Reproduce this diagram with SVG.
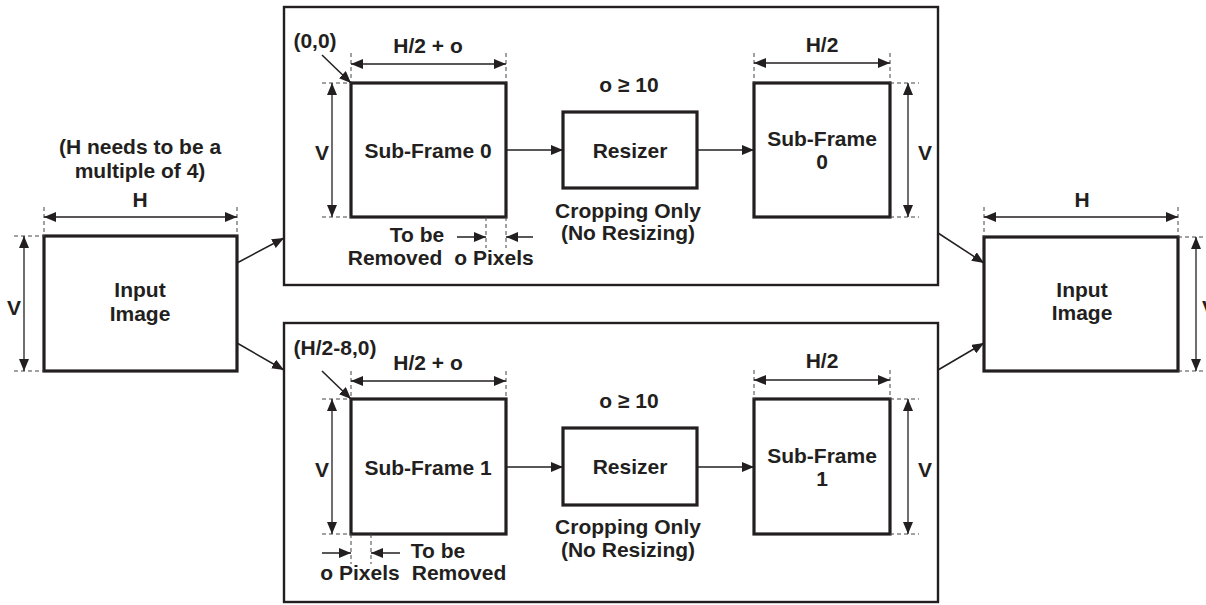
<svg xmlns="http://www.w3.org/2000/svg" width="1206" height="605" viewBox="0 0 1206 605">
<defs>
<marker id="ah" markerUnits="userSpaceOnUse" markerWidth="12" markerHeight="10" refX="12" refY="5" orient="auto-start-reverse" viewBox="0 0 12 10"><path d="M0,0 L12,5 L0,10 z" fill="#231f20"/></marker>
<marker id="ca" markerUnits="userSpaceOnUse" markerWidth="12" markerHeight="10" refX="12" refY="5" orient="auto" viewBox="0 0 12 10"><path d="M0,0 L12,5 L0,10 z" fill="#231f20"/></marker>
</defs>
<style>
text{font-family:"Liberation Sans",Arial,sans-serif;font-weight:bold;font-size:21px;fill:#231f20;text-anchor:middle}
.box{fill:#fff;stroke:#231f20;stroke-width:3.2}
.outer{fill:none;stroke:#231f20;stroke-width:2.4}
.dim{stroke:#231f20;stroke-width:1.3;fill:none;marker-start:url(#ah);marker-end:url(#ah)}
.ext{stroke:#444;stroke-width:1;stroke-dasharray:4 3;fill:none}
.con{stroke:#231f20;stroke-width:1.5;fill:none;marker-end:url(#ca)}
</style>
<rect width="1206" height="605" fill="#fff"/>

<g id="top-stage">
<rect class="outer" x="284" y="7" width="654" height="278"/>
</g>
<g id="bottom-stage">
<rect class="outer" x="284" y="323" width="654" height="279"/>
</g>

<g id="input-left">
<rect class="box" x="44" y="236" width="193" height="135"/>
<text x="140" y="297">Input</text>
<text x="140" y="321">Image</text>
<text x="140" y="154">(H needs to be a</text>
<text x="140" y="178">multiple of 4)</text>
<line class="ext" x1="44" y1="207" x2="44" y2="236"/>
<line class="ext" x1="237" y1="207" x2="237" y2="236"/>
<line class="dim" x1="44" y1="217" x2="237" y2="217"/>
<text x="140" y="207">H</text>
<line class="ext" x1="14" y1="236" x2="44" y2="236"/>
<line class="ext" x1="14" y1="371" x2="44" y2="371"/>
<line class="dim" x1="24" y1="236" x2="24" y2="371"/>
<text x="14" y="315">V</text>
</g>

<g id="subframe0">
<rect class="box" x="351" y="83" width="155" height="134"/>
<text x="428" y="158">Sub-Frame 0</text>
<text x="315" y="48">(0,0)</text>
<line class="ext" x1="351" y1="53" x2="351" y2="83"/>
<line class="ext" x1="506" y1="53" x2="506" y2="83"/>
<line class="dim" x1="351" y1="64" x2="506" y2="64"/>
<text x="428" y="53">H/2 + o</text>
<line class="ext" x1="322" y1="83" x2="351" y2="83"/>
<line class="ext" x1="322" y1="217" x2="351" y2="217"/>
<line class="dim" x1="332" y1="83" x2="332" y2="217"/>
<text x="322" y="160">V</text>
<line class="ext" x1="486" y1="217" x2="486" y2="248"/>
<line class="ext" x1="506" y1="217" x2="506" y2="248"/>
<text x="417" y="242">To be</text>
<text x="395" y="265">Removed</text>
<text x="494" y="265">o Pixels</text>
</g>

<g id="resizer0">
<rect class="box" x="563" y="112" width="134" height="76"/>
<text x="630" y="158">Resizer</text>
<text x="629" y="92">o ≥ 10</text>
<text x="628" y="218">Cropping Only</text>
<text x="628" y="240">(No Resizing)</text>
</g>

<g id="subframe0-out">
<rect class="box" x="754" y="83" width="136" height="134"/>
<text x="822" y="146">Sub-Frame</text>
<text x="822" y="169">0</text>
<line class="ext" x1="754" y1="53" x2="754" y2="83"/>
<line class="ext" x1="890" y1="53" x2="890" y2="83"/>
<line class="dim" x1="754" y1="63" x2="890" y2="63"/>
<text x="822" y="52">H/2</text>
<line class="ext" x1="890" y1="83" x2="919" y2="83"/>
<line class="ext" x1="890" y1="217" x2="919" y2="217"/>
<line class="dim" x1="908" y1="83" x2="908" y2="217"/>
<text x="925" y="160">V</text>
</g>

<g id="subframe1">
<rect class="box" x="351" y="399" width="155" height="135"/>
<text x="428" y="475">Sub-Frame 1</text>
<text x="335" y="355">(H/2-8,0)</text>
<line class="ext" x1="351" y1="371" x2="351" y2="399"/>
<line class="ext" x1="506" y1="371" x2="506" y2="399"/>
<line class="dim" x1="351" y1="381" x2="506" y2="381"/>
<text x="428" y="370">H/2 + o</text>
<line class="ext" x1="322" y1="399" x2="351" y2="399"/>
<line class="ext" x1="322" y1="534" x2="351" y2="534"/>
<line class="dim" x1="332" y1="399" x2="332" y2="534"/>
<text x="322" y="477">V</text>
<line class="ext" x1="351" y1="534" x2="351" y2="564"/>
<line class="ext" x1="371" y1="534" x2="371" y2="564"/>
<text x="438" y="558">To be</text>
<text x="459" y="580">Removed</text>
<text x="360" y="580">o Pixels</text>
</g>

<g id="resizer1">
<rect class="box" x="563" y="428" width="134" height="77"/>
<text x="630" y="474">Resizer</text>
<text x="629" y="408">o ≥ 10</text>
<text x="628" y="534">Cropping Only</text>
<text x="628" y="557">(No Resizing)</text>
</g>

<g id="subframe1-out">
<rect class="box" x="754" y="399" width="136" height="135"/>
<text x="822" y="463">Sub-Frame</text>
<text x="822" y="486">1</text>
<line class="ext" x1="754" y1="370" x2="754" y2="399"/>
<line class="ext" x1="890" y1="370" x2="890" y2="399"/>
<line class="dim" x1="754" y1="380" x2="890" y2="380"/>
<text x="822" y="368">H/2</text>
<line class="ext" x1="890" y1="399" x2="919" y2="399"/>
<line class="ext" x1="890" y1="534" x2="919" y2="534"/>
<line class="dim" x1="908" y1="399" x2="908" y2="534"/>
<text x="925" y="477">V</text>
</g>

<g id="input-right">
<rect class="box" x="984" y="237" width="194" height="134"/>
<text x="1082" y="297">Input</text>
<text x="1082" y="320">Image</text>
<line class="ext" x1="984" y1="207" x2="984" y2="237"/>
<line class="ext" x1="1178" y1="207" x2="1178" y2="237"/>
<line class="dim" x1="984" y1="217" x2="1178" y2="217"/>
<text x="1082" y="207">H</text>
<line class="ext" x1="1178" y1="237" x2="1206" y2="237"/>
<line class="ext" x1="1178" y1="371" x2="1206" y2="371"/>
<line class="dim" x1="1196" y1="237" x2="1196" y2="371"/>
<text x="1202" y="315" style="text-anchor:start">V</text>
</g>

<g id="connectors">
<line class="con" x1="237" y1="263" x2="284" y2="238"/>
<line class="con" x1="237" y1="343" x2="284" y2="370"/>
<line class="con" x1="506" y1="150" x2="563" y2="150"/>
<line class="con" x1="697" y1="150" x2="754" y2="150"/>
<line class="con" x1="506" y1="467" x2="563" y2="467"/>
<line class="con" x1="697" y1="467" x2="754" y2="467"/>
<line class="con" x1="938" y1="233" x2="984" y2="263"/>
<line class="con" x1="938" y1="370" x2="984" y2="343"/>
<line class="con" x1="322" y1="55" x2="351" y2="83"/>
<line class="con" x1="322" y1="371" x2="351" y2="399"/>
<line class="con" x1="457" y1="237" x2="486" y2="237"/>
<line class="con" x1="533" y1="237" x2="506" y2="237"/>
<line class="con" x1="322" y1="553" x2="351" y2="553"/>
<line class="con" x1="400" y1="553" x2="371" y2="553"/>
</g>
</svg>
